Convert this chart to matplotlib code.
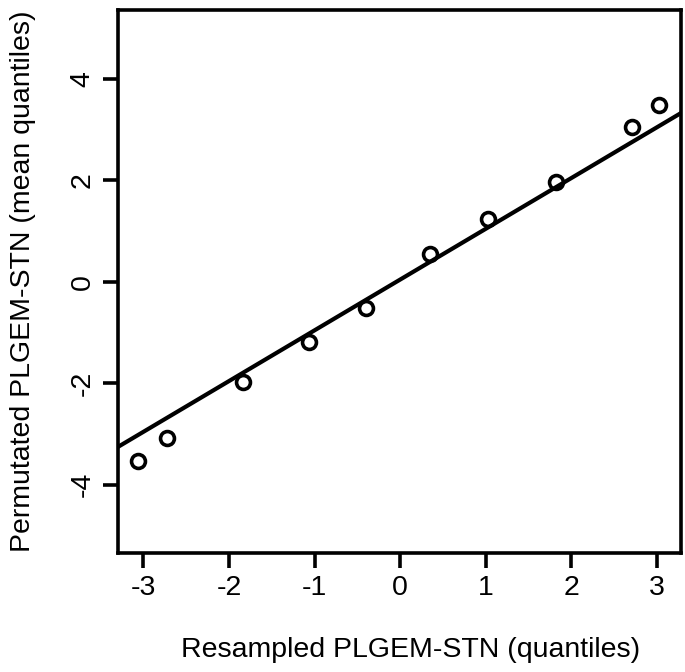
import matplotlib
matplotlib.use("Agg")
import matplotlib.pyplot as plt
import numpy as np

# resampled vs permutated quantiles
resampled = [-3.06, -2.72, -1.84, -1.07, -0.40, 0.35, 1.03, 1.82, 2.71, 3.03]
permutated = [-3.53, -3.09, -1.97, -1.20, -0.53, 0.55, 1.24, 1.97, 3.05, 3.47]
fit_slope = 1.0
fit_intercept = 0.04

xticks = [-3, -2, -1, 0, 1, 2, 3]
yticks = [-4, -2, 0, 2, 4]

plt.rcParams['font.family'] = ['Liberation Sans', 'DejaVu Sans']

fig = plt.figure(figsize=(6.85, 6.72), dpi=100)
ax = fig.add_axes([0.172, 0.177, 0.822, 0.808])

ax.plot(resampled, permutated, 'o', mfc='white', mec='black', mew=2.6, ms=10)

xlim = (-3.30, 3.28)
xs = np.array(xlim)
ax.plot(xs, fit_intercept + fit_slope * xs, color='black', lw=3.0)

ax.set_xlim(*xlim)
ax.set_ylim(-5.35, 5.35)
ax.set_xticks(xticks)
ax.set_yticks(yticks)
ax.set_xticklabels([str(t) for t in xticks])
ax.set_yticklabels([str(t) for t in yticks], rotation=90, va='center')

for s in ax.spines.values():
    s.set_linewidth(2.6)
ax.tick_params(direction='out', length=11, width=2.6, labelsize=20.5, pad=5)

ax.set_xlabel('Resampled PLGEM-STN (quantiles)', fontsize=20.5, labelpad=30)
ax.xaxis.set_label_coords(0.52, -0.155)
ax.set_ylabel('Permutated PLGEM-STN (mean quantiles)', fontsize=20.5, labelpad=24)

fig.savefig('out.png', dpi=100)
